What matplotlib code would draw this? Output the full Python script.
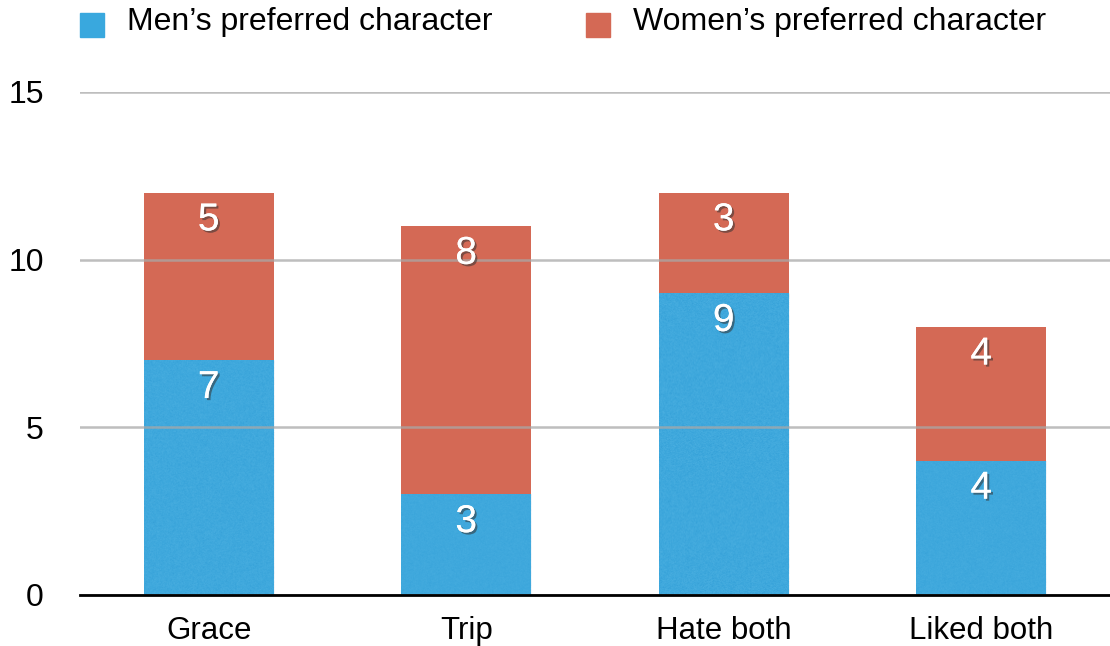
import numpy as np
import matplotlib
matplotlib.use('Agg')
import matplotlib.pyplot as plt
import matplotlib.patheffects as pe
from matplotlib.patches import Rectangle

plt.rcParams['font.family'] = ['Liberation Sans', 'DejaVu Sans']

categories = ['Grace', 'Trip', 'Hate both', 'Liked both']
men = [7, 3, 9, 4]
women = [5, 8, 3, 4]
series_names = ["Men\u2019s preferred character", "Women\u2019s preferred character"]
yticks = [0, 5, 10, 15]

BLUE = '#39a8de'
RED = '#d46955'

fig = plt.figure(figsize=(11.10, 6.46), dpi=100)
ax = fig.add_axes([0.072, 0.079, 0.928, 0.7786])

x = np.arange(len(categories))
width = 0.505

bars_men = ax.bar(x, men, width, color=BLUE, zorder=2)
bars_women = ax.bar(x, women, width, bottom=men, color=RED, zorder=2)

# speckled texture on the blue bars
rng = np.random.default_rng(3)
noise = rng.normal(0, 1, (300, 300))
for b in bars_men:
    im = ax.imshow(noise, cmap='Blues', alpha=0.12, vmin=-3, vmax=3,
                   extent=(b.get_x(), b.get_x() + b.get_width(), 0, b.get_height()),
                   aspect='auto', zorder=2.1, interpolation='bilinear')
    im.set_clip_path(b)

shadow = [pe.withSimplePatchShadow(offset=(1.5, -1.5), alpha=0.55, shadow_rgbFace='#333333'),
          pe.Normal()]


def label_segments(bars, values, bottoms):
    for b, v, b0 in zip(bars, values, bottoms):
        ax.annotate(str(v), (b.get_x() + b.get_width() / 2, b0 + v),
                    xytext=(0, -20), textcoords='offset points',
                    ha='center', va='center', color='white', fontsize=28,
                    zorder=5, path_effects=shadow)


label_segments(bars_men, men, [0] * len(men))
label_segments(bars_women, women, men)

ax.set_xlim(-0.5, len(categories) - 0.5)
ax.set_ylim(0, 15)
ax.set_yticks(yticks)
ax.set_xticks(x)
ax.set_xticklabels(categories)
ax.tick_params(axis='y', length=0, pad=26, labelsize=23)
ax.tick_params(axis='x', length=0, pad=15, labelsize=22.5)

ax.yaxis.grid(True, color='#a8a8a8', linewidth=1.8, alpha=0.75, zorder=3)
ax.set_axisbelow(False)
for side in ['top', 'right', 'left']:
    ax.spines[side].set_visible(False)
ax.spines['bottom'].set_color('black')
ax.spines['bottom'].set_linewidth(2)
ax.spines['bottom'].set_zorder(4)

# legend along the top
W, H = 1110, 646
for (sx, tx), name, col in zip([(80, 127), (586, 633)], series_names, [BLUE, RED]):
    fig.patches.append(Rectangle((sx / W, 1 - 37 / H), 24 / W, 24 / H,
                                 transform=fig.transFigure, color=col))
    fig.text(tx / W, 1 - 22 / H, name, fontsize=23, va='center', ha='left')

fig.savefig('out.png', dpi=100)
